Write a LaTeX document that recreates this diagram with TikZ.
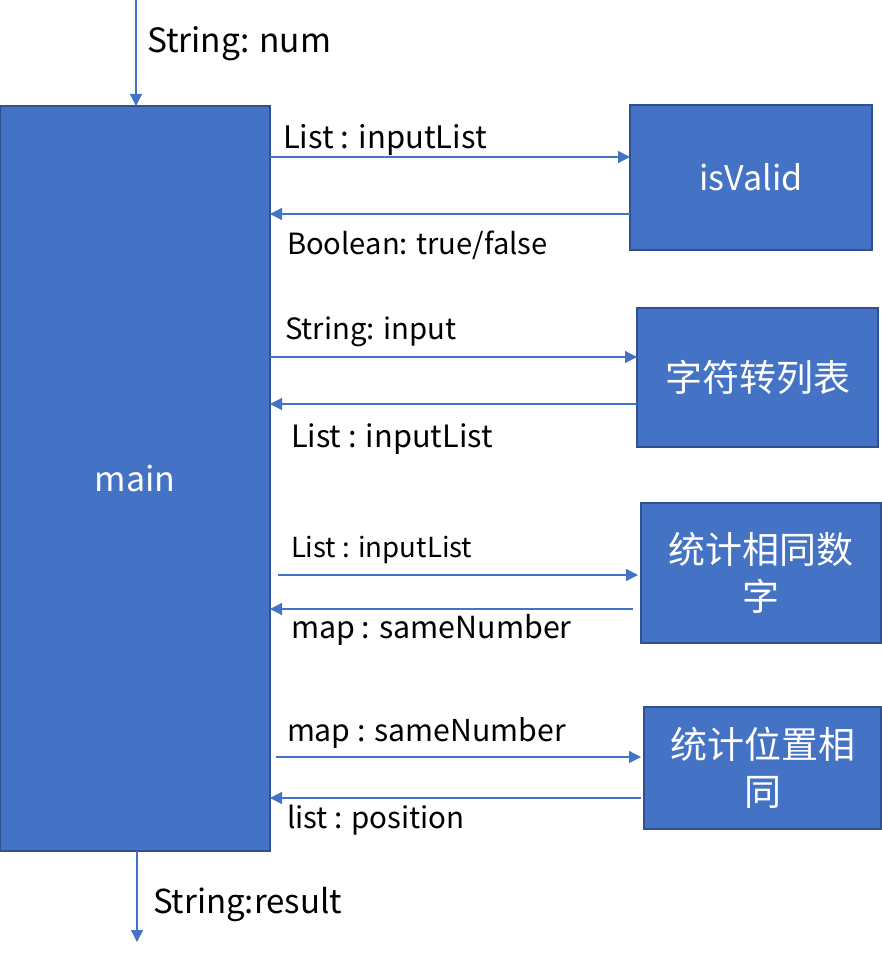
\documentclass[tikz,border=0pt]{standalone}
\usepackage{fontspec}
\setmainfont{Noto Sans CJK SC}
\usetikzlibrary{arrows.meta}
\definecolor{boxfill}{HTML}{4472C4}
\definecolor{boxline}{HTML}{2F528F}
\definecolor{arrowc}{HTML}{4472C4}
\begin{document}
\begin{tikzpicture}[x=1pt,y=-1pt,
  blockbox/.style={draw=boxline,fill=boxfill,line width=2pt,inner sep=0pt,outer sep=0pt,
    text=white,align=center},
  arr/.style={draw=arrowc,line width=1.3pt,-{Triangle[length=12pt,width=12pt]}},
  lbl/.style={anchor=base west,inner sep=0pt,outer sep=0pt,text=black},
  fs/.style={font=\fontsize{#1}{#1}\selectfont}
]
\useasboundingbox (0,0) rectangle (882,957);
% blocks
\node[blockbox,minimum width=270pt,minimum height=745pt,fs=34] (main) at (135,478.5) {main};
\node[blockbox,minimum width=242pt,minimum height=145pt,fs=34] (valid) at (751,177.5) {isValid};
\node[blockbox,minimum width=241pt,minimum height=139pt,fs=37] (conv) at (757.5,377.5) {字符转列表};
\node[blockbox,minimum width=240pt,minimum height=140pt,font=\fontsize{37}{47}\selectfont] (count) at (761,573) {统计相同数\\字};
\node[blockbox,minimum width=237pt,minimum height=122pt,font=\fontsize{37}{47}\selectfont] (pos) at (762.5,768) {统计位置相\\同};
% input / output
\coordinate (in) at (136,0);
\coordinate (out) at (137,942);
\draw[arr] (in) -- (in |- main.north);
\draw[arr] (out |- main.south) -- (out);
\node[lbl,fs=33.5] (lin) at (147,53) {String: num};
\node[lbl,fs=33] (lout) at (153,913) {String:result};
% isValid
\draw[arr] (main.east |- 0,157) -- (valid.west |- 0,157);
\draw[arr] (valid.west |- 0,214) -- (main.east |- 0,214);
\node[lbl,fs=31] (l1) at (283,149) {List : inputList};
\node[lbl,fs=29.2] (l2) at (287,255) {Boolean: true/false};
% conv
\draw[arr] (main.east |- 0,357) -- (conv.west |- 0,357);
\draw[arr] (conv.west |- 0,404) -- (main.east |- 0,404);
\node[lbl,fs=29.3] (l3) at (285,339) {String: input};
\node[lbl,fs=30.7] (l4) at (291,447) {List : inputList};
% count
\draw[arr,shorten <=8pt,shorten >=3pt] (main.east |- 0,575) -- (count.west |- 0,575);
\draw[arr,shorten <=8pt] (count.west |- 0,609) -- (main.east |- 0,609);
\node[lbl,fs=27.6] (l5) at (291,557) {List : inputList};
\node[lbl,fs=30.4] (l6) at (291,638) {map : sameNumber};
% pos
\draw[arr,shorten <=6pt,shorten >=3pt] (main.east |- 0,757) -- (pos.west |- 0,757);
\draw[arr,shorten <=3pt] (pos.west |- 0,798) -- (main.east |- 0,798);
\node[lbl,fs=30.2] (l7) at (287,741) {map : sameNumber};
\node[lbl,fs=29.5] (l8) at (287,828) {list : position};
\end{tikzpicture}
\end{document}
